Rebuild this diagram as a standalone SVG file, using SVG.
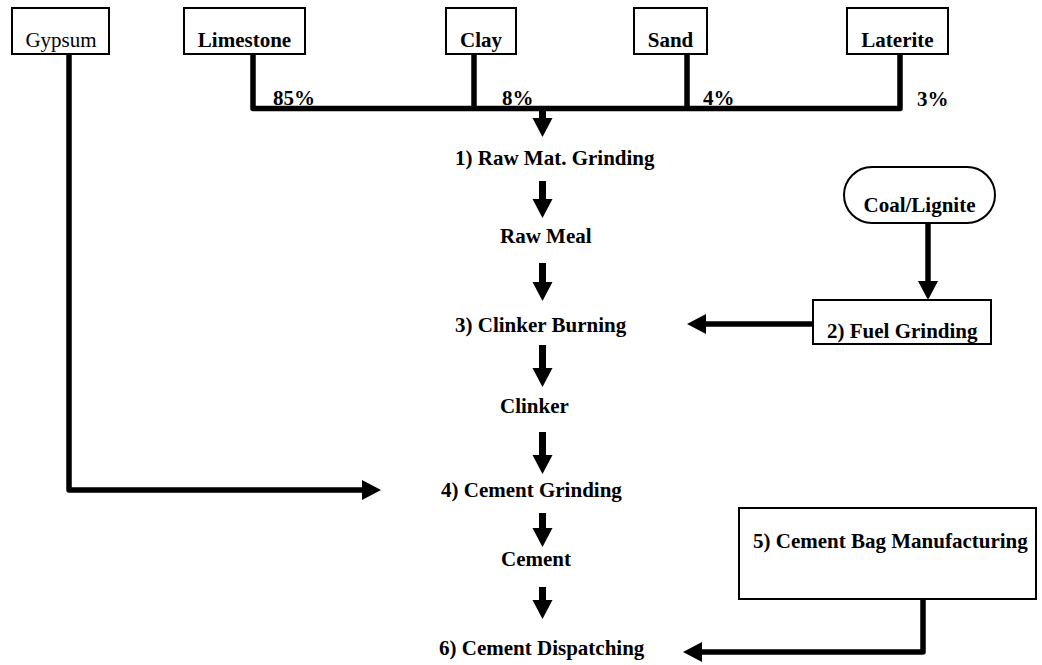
<svg xmlns="http://www.w3.org/2000/svg" width="1042" height="665" viewBox="0 0 1042 665">
<style>
.bx{fill:#fff;stroke:#000;stroke-width:2}
.t{font-family:"Liberation Serif","Times New Roman",serif;font-size:21px;font-weight:bold;fill:#000}
.n{font-weight:normal}
.c{stroke:#000;stroke-width:5.5;fill:none;stroke-linejoin:round}
.m{stroke:#000;stroke-width:7;fill:none}
</style>
<defs>
<marker id="ah" markerUnits="userSpaceOnUse" markerWidth="19" markerHeight="20" refX="0" refY="10" orient="auto" overflow="visible">
<path d="M0,0 L19,10 L0,20 z" fill="#000"/>
</marker>
</defs>
<rect width="1042" height="665" fill="#fff"/>
<g id="connectors">
<path class="c" d="M253,54 V108.5 H900 V54"/>
<path class="c" d="M474,54 V108.5"/>
<path class="c" d="M687,54 V108.5"/>
<path class="c" d="M69,54 V490 H362" marker-end="url(#ah)"/>
<path class="c" d="M928,223 V281" marker-end="url(#ah)"/>
<path class="c" d="M813,324 H706" marker-end="url(#ah)"/>
<path class="c" d="M923,599 V652 H702" marker-end="url(#ah)"/>
<path class="m" d="M542.5,110 V118" marker-end="url(#ah)"/>
<path class="m" d="M542.5,181 V199" marker-end="url(#ah)"/>
<path class="m" d="M542.5,263 V282" marker-end="url(#ah)"/>
<path class="m" d="M542.5,345 V368" marker-end="url(#ah)"/>
<path class="m" d="M542.5,432 V455" marker-end="url(#ah)"/>
<path class="m" d="M542.5,513 V528" marker-end="url(#ah)"/>
<path class="m" d="M542.5,587 V600" marker-end="url(#ah)"/>
</g>
<g id="gypsum"><rect class="bx" x="12" y="8" width="97" height="46"/><text class="t n" x="61" y="47" text-anchor="middle">Gypsum</text></g>
<g id="limestone"><rect class="bx" x="184" y="8" width="121" height="46"/><text class="t" x="244.5" y="47" text-anchor="middle">Limestone</text></g>
<g id="clay"><rect class="bx" x="446" y="8" width="70" height="46"/><text class="t" x="481" y="47" text-anchor="middle">Clay</text></g>
<g id="sand"><rect class="bx" x="634" y="8" width="73" height="46"/><text class="t" x="670.5" y="47" text-anchor="middle">Sand</text></g>
<g id="laterite"><rect class="bx" x="847" y="8" width="101" height="46"/><text class="t" x="897.5" y="47" text-anchor="middle">Laterite</text></g>
<g id="percents">
<text class="t" x="273" y="105">85%</text>
<text class="t" x="502" y="105">8%</text>
<text class="t" x="703" y="105">4%</text>
<text class="t" x="917" y="106">3%</text>
</g>
<g id="raw-mat-grinding"><text class="t" x="455" y="165">1) Raw Mat. Grinding</text></g>
<g id="raw-meal"><text class="t" x="500" y="243">Raw Meal</text></g>
<g id="clinker-burning"><text class="t" x="455" y="332">3) Clinker Burning</text></g>
<g id="clinker"><text class="t" x="500" y="413">Clinker</text></g>
<g id="cement-grinding"><text class="t" x="441" y="497">4) Cement Grinding</text></g>
<g id="cement"><text class="t" x="501" y="566">Cement</text></g>
<g id="cement-dispatching"><text class="t" x="439" y="655">6) Cement Dispatching</text></g>
<g id="coal-lignite"><rect class="bx" x="844" y="167" width="151" height="56" rx="28" ry="28"/><text class="t" x="919.5" y="212" text-anchor="middle">Coal/Lignite</text></g>
<g id="fuel-grinding"><rect class="bx" x="813" y="300" width="178" height="44"/><text class="t" x="827" y="338">2) Fuel Grinding</text></g>
<g id="cement-bag"><rect class="bx" x="739" y="508" width="297" height="91"/><text class="t" x="753" y="548">5) Cement Bag Manufacturing</text></g>
</svg>
